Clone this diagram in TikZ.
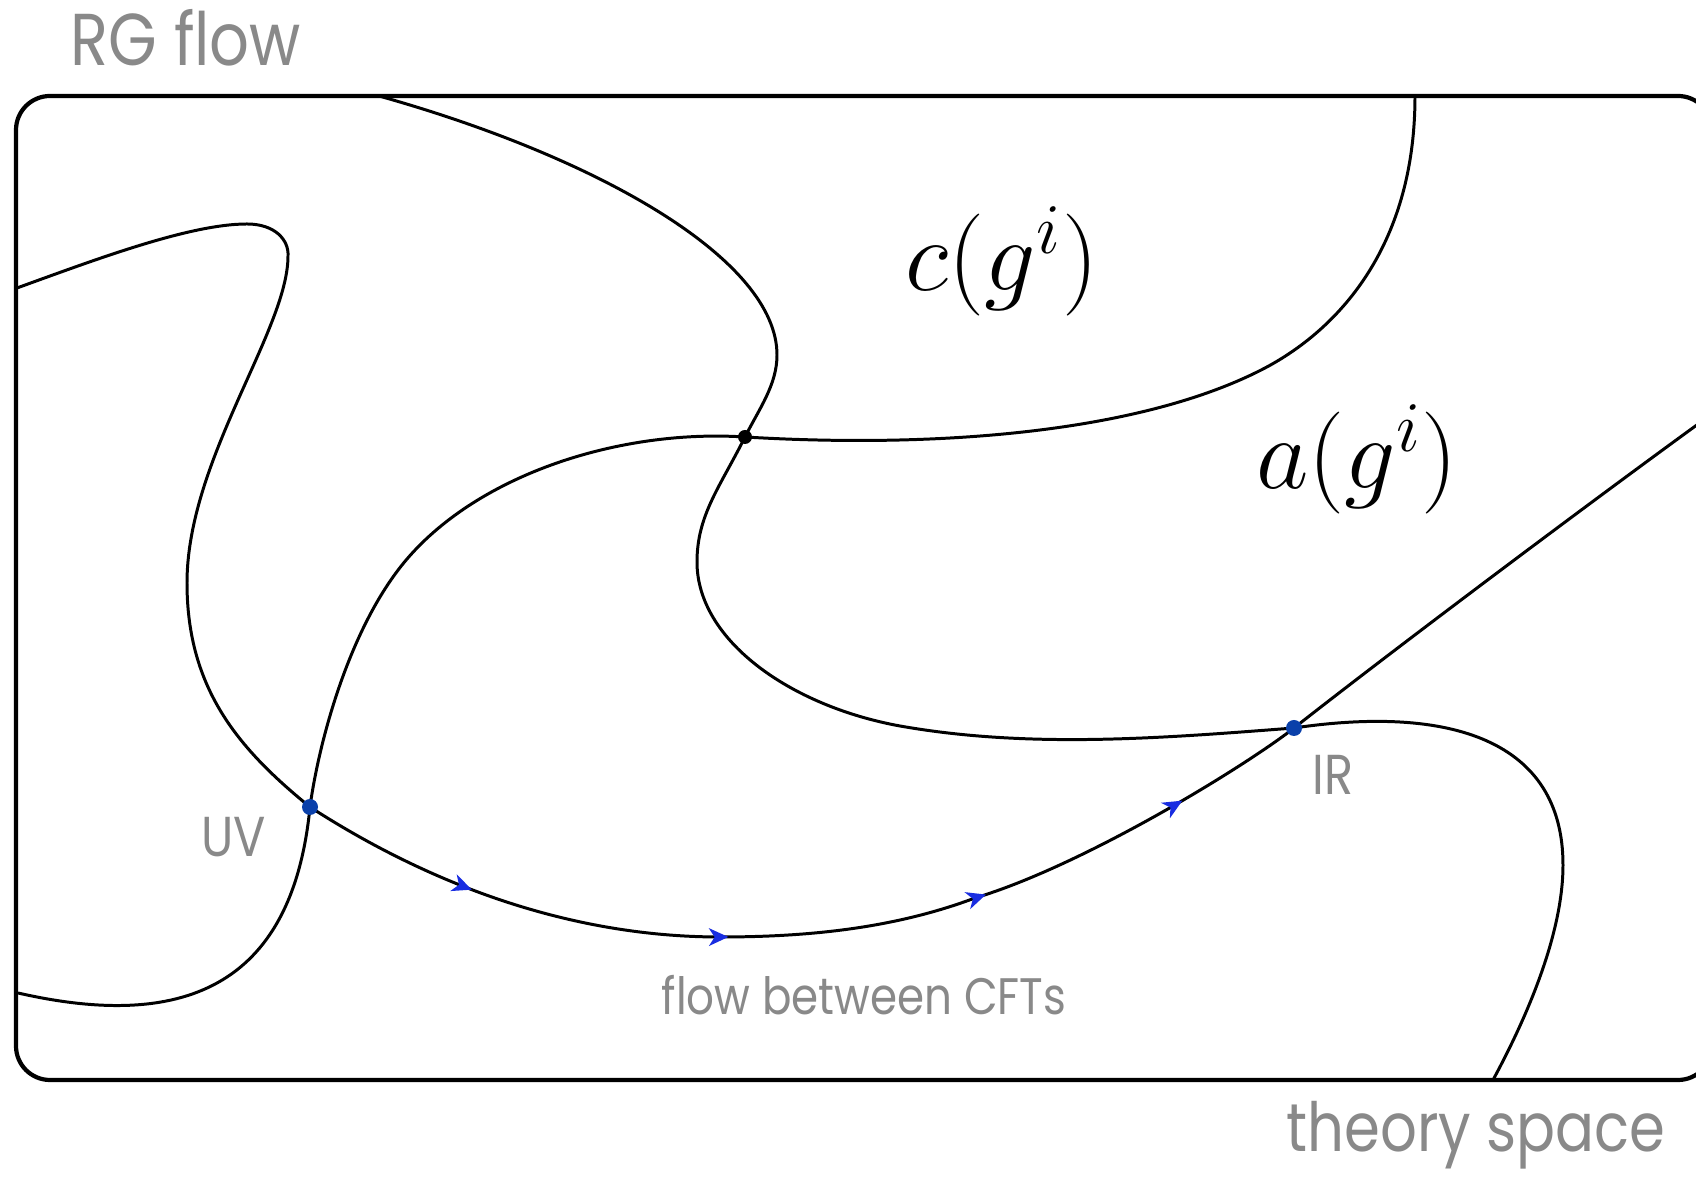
\RequirePackage{fix-cm}
\documentclass[tikz,border=0pt]{standalone}
\usepackage{fontspec}
\usetikzlibrary{arrows.meta,decorations.markings}
\newfontfamily\labelfont[FakeStretch=0.85]{Poppins}
\definecolor{labelgray}{HTML}{898989}
\definecolor{flowblue}{RGB}{25,45,225}
\definecolor{fixblue}{RGB}{10,64,170}

\begin{document}
\begin{tikzpicture}[
    x=0.01cm, y=-0.01cm,
    curve/.style={line width=0.85pt, line join=round},
    box/.style={line width=1.2pt, rounded corners=0.34cm},
    gray label/.style={text=labelgray, inner sep=0pt, anchor=base},
    math label/.style={inner sep=0pt, anchor=base, font=\fontsize{29}{33}\selectfont},
    flowtip/.tip={Stealth[length=5.5pt, width=5pt, inset=1.6pt]},
    flow arrows/.style={postaction={decorate}, decoration={markings,
        mark=at position 0.172 with {\arrow[flowblue]{flowtip}},
        mark=at position 0.420 with {\arrow[flowblue]{flowtip}},
        mark=at position 0.668 with {\arrow[flowblue]{flowtip}},
        mark=at position 0.874 with {\arrow[flowblue]{flowtip}}}}
]
\useasboundingbox (0,0) rectangle (1696,1177);

% fixed points
\coordinate (UV) at (310,807);
\coordinate (IR) at (1294,728);
\coordinate (meet) at (745,437);

\draw[box] (16,96) rectangle (1712,1080);

% level set of c
\draw[curve] (379,96) .. controls (600,158) and (777,260) .. (777,355)
    .. controls (777,385) and (759,409) .. (meet)
    .. controls (720,487) and (697,515) .. (697,562)
    .. controls (697,640) and (790,706) .. (900,726)
    .. controls (1030,749) and (1164,738) .. (IR)
    .. controls (1450,705) and (1563,740) .. (1563,865)
    .. controls (1563,940) and (1520,1030) .. (1493,1080);
% level set of a
\draw[curve] (1415,96) .. controls (1415,250) and (1335,331) .. (1265,368)
    .. controls (1145,431) and (945,449) .. (meet)
    .. controls (620,429) and (480,474) .. (407,559)
    .. controls (348,628) and (318,747) .. (UV)
    .. controls (292,990) and (180,1030) .. (18,993);
% RG trajectory
\draw[curve] (17,288) .. controls (97,259) and (190,224) .. (247,224)
    .. controls (275,224) and (289,240) .. (288,256)
    .. controls (288,330) and (187,460) .. (187,583)
    .. controls (187,690) and (240,750) .. (UV);
\draw[curve, flow arrows] (UV) .. controls (440,891) and (580,937) .. (720,937)
    .. controls (810,937) and (895,928) .. (975,898)
    .. controls (1085,865) and (1247,765) .. (IR);
\draw[curve] (IR) .. controls (1397,647) and (1600,495) .. (1712,414);

\fill (meet) circle (7);
\fill[fixblue] (UV) circle (8);
\fill[fixblue] (IR) circle (8);

\node[gray label, font=\labelfont\fontsize{20.9}{24}\selectfont] (rgflow) at (186,66) {RG flow};
\node[gray label, font=\labelfont\fontsize{19.3}{22}\selectfont] (theory) at (1476,1152) {theory space};
\node[gray label, font=\labelfont\fontsize{14.6}{18}\selectfont] (cftflow) at (864,1015) {flow between CFTs};
\node[gray label, font=\labelfont\fontsize{16}{19}\selectfont] (uvlabel) at (234,857) {UV};
\node[gray label, font=\labelfont\fontsize{16}{19}\selectfont] (irlabel) at (1333,795) {IR};
\node[math label] (clabel) at (1002,291) {$c(g^i)$};
\node[math label] (alabel) at (1357,489) {$a(g^i)$};
\end{tikzpicture}
\end{document}
